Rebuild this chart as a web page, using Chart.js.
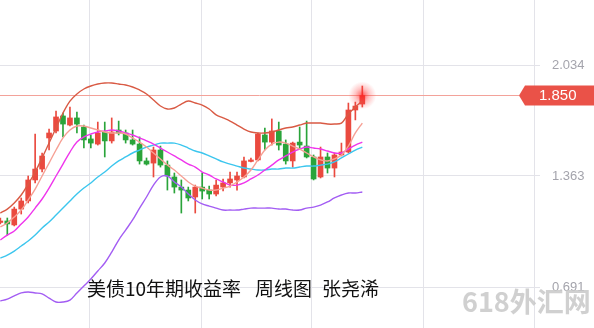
<!DOCTYPE html>
<html>
<head>
<meta charset="utf-8">
<script src="https://cdn.jsdelivr.net/npm/chart.js@4.4.1/dist/chart.umd.min.js"></script>
<style>
  body { margin: 0; background: #fff; }
  #wrap { width: 594px; height: 328px; position: relative; }
</style>
</head>
<body>
<div id="wrap"><canvas id="boll"></canvas></div>
<script>
// 周线 K 线 (美债10年期收益率)
const weeks = [0,1,2,3,4,5,6,7,8,9,10,11,12,13,14,15,16,17,18,19,20,21,22,23,24,25,26,27,28,29,30,31,32,33,34,35,36,37,38,39,40,41,42,43,44,45,46,47,48,49,50,51,52]
const open  = [1.082,1.091,1.067,1.163,1.212,1.339,1.405,1.593,1.635,1.726,1.671,1.714,1.659,1.587,1.556,1.629,1.575,1.641,1.623,1.581,1.556,1.454,1.441,1.520,1.429,1.357,1.296,1.278,1.236,1.296,1.278,1.254,1.296,1.321,1.339,1.357,1.451,1.460,1.611,1.568,1.635,1.556,1.454,1.568,1.544,1.478,1.357,1.478,1.411,1.490,1.508,1.762,1.798]
const high  = [1.109,1.109,1.175,1.230,1.363,1.617,1.502,1.647,1.756,1.744,1.780,1.750,1.671,1.611,1.689,1.689,1.714,1.695,1.641,1.641,1.599,1.472,1.538,1.544,1.454,1.381,1.339,1.296,1.308,1.381,1.302,1.339,1.345,1.387,1.387,1.478,1.472,1.623,1.653,1.708,1.689,1.581,1.568,1.659,1.695,1.490,1.538,1.502,1.502,1.562,1.804,1.810,1.907]
const low   = [1.073,1.006,1.061,1.133,1.200,1.321,1.387,1.520,1.623,1.599,1.665,1.623,1.532,1.532,1.550,1.478,1.562,1.611,1.562,1.550,1.435,1.429,1.357,1.417,1.278,1.260,1.139,1.212,1.139,1.224,1.224,1.242,1.272,1.296,1.278,1.351,1.448,1.454,1.520,1.550,1.520,1.435,1.417,1.526,1.472,1.339,1.351,1.381,1.357,1.484,1.502,1.702,1.780]
const close = [1.091,1.073,1.163,1.212,1.339,1.405,1.484,1.623,1.720,1.677,1.714,1.677,1.581,1.562,1.623,1.575,1.629,1.623,1.581,1.556,1.454,1.435,1.520,1.429,1.363,1.296,1.278,1.230,1.296,1.272,1.254,1.308,1.321,1.345,1.363,1.454,1.460,1.617,1.568,1.635,1.550,1.454,1.562,1.550,1.478,1.345,1.478,1.411,1.490,1.508,1.762,1.786,1.850]

// 均线 / 布林带
const ma5    = [1.055,1.079,1.115,1.157,1.218,1.284,1.363,1.441,1.520,1.593,1.641,1.665,1.665,1.653,1.641,1.629,1.623,1.623,1.617,1.593,1.568,1.538,1.502,1.466,1.429,1.399,1.363,1.327,1.302,1.290,1.278,1.278,1.290,1.302,1.327,1.357,1.399,1.460,1.520,1.556,1.568,1.562,1.544,1.526,1.502,1.478,1.460,1.454,1.466,1.490,1.544,1.623,1.683]
const ma10   = [0.976,1.006,1.030,1.073,1.115,1.169,1.224,1.290,1.363,1.435,1.508,1.568,1.599,1.617,1.629,1.635,1.641,1.635,1.623,1.611,1.593,1.575,1.556,1.532,1.508,1.484,1.460,1.435,1.417,1.387,1.369,1.345,1.327,1.308,1.308,1.321,1.345,1.369,1.399,1.429,1.460,1.484,1.508,1.526,1.538,1.532,1.526,1.514,1.502,1.502,1.526,1.550,1.568]
const bollUp = [1.139,1.163,1.200,1.248,1.314,1.387,1.472,1.562,1.653,1.744,1.816,1.859,1.889,1.907,1.919,1.925,1.925,1.919,1.913,1.901,1.883,1.859,1.822,1.786,1.768,1.774,1.798,1.816,1.804,1.792,1.768,1.732,1.714,1.695,1.671,1.647,1.629,1.623,1.623,1.629,1.641,1.653,1.659,1.671,1.683,1.683,1.683,1.677,1.677,1.683,1.738,1.780,1.816]
const bollMid = [0.867,0.885,0.909,0.940,0.970,1.006,1.049,1.085,1.127,1.169,1.212,1.254,1.290,1.321,1.357,1.387,1.423,1.454,1.478,1.502,1.520,1.538,1.550,1.562,1.562,1.562,1.550,1.532,1.514,1.502,1.484,1.466,1.448,1.435,1.423,1.411,1.405,1.399,1.399,1.405,1.405,1.411,1.411,1.417,1.423,1.423,1.429,1.435,1.448,1.472,1.496,1.520,1.538]
const bollDn = [0.607,0.619,0.638,0.656,0.662,0.656,0.650,0.625,0.601,0.601,0.613,0.656,0.698,0.740,0.789,0.837,0.903,0.976,1.036,1.097,1.169,1.236,1.308,1.357,1.363,1.327,1.296,1.254,1.218,1.194,1.181,1.169,1.157,1.157,1.157,1.163,1.169,1.169,1.169,1.169,1.163,1.163,1.157,1.157,1.169,1.175,1.187,1.206,1.230,1.248,1.260,1.260,1.266]

const yTicks = [2.034, 1.363, 0.691]
const xGrid = [12.88, 28.83, 44.77, 60.72, 76.67]

const RED = "#ea4a3f"
const GREEN = "#2aa43a"

function pts(arr) {
    return weeks.map((w, i) => ({ x: w, y: arr[i] }))
}

function candleColor(ctx) {
    const i = ctx.dataIndex
    return close[i] >= open[i] ? RED : GREEN
}

function lineSet(label, arr, color) {
    return {
        type: "line",
        label: label,
        data: pts(arr),
        borderColor: color,
        borderWidth: 1.4,
        pointRadius: 0,
        tension: 0.35,
        fill: false,
        order: 1
    }
}

const lastPrice = close[close.length - 1]

// 最新价标签、标题和水印
const overlay = {
    id: "overlay",
    beforeDatasetsDraw(chart) {
        const c = chart.ctx
        const y = chart.scales.y.getPixelForValue(lastPrice)
        c.save()
        c.strokeStyle = "#f3a29a"
        c.lineWidth = 1
        c.beginPath()
        c.moveTo(0, Math.round(y) + 0.5)
        c.lineTo(519, Math.round(y) + 0.5)
        c.stroke()
        c.restore()
    },
    afterDatasetsDraw(chart) {
        const c = chart.ctx
        const x = chart.scales.x.getPixelForValue(weeks[weeks.length - 1])
        const y = chart.scales.y.getPixelForValue(lastPrice)
        const g = c.createRadialGradient(x, y, 0, x, y, 14)
        g.addColorStop(0, "rgba(255,30,30,0.75)")
        g.addColorStop(0.5, "rgba(255,60,60,0.3)")
        g.addColorStop(1, "rgba(255,80,80,0)")
        c.save()
        c.fillStyle = g
        c.beginPath()
        c.arc(x, y, 14, 0, Math.PI * 2)
        c.fill()
        c.restore()
    },
    afterDraw(chart) {
        const c = chart.ctx
        const y = Math.round(chart.scales.y.getPixelForValue(lastPrice))
        c.save()
        // 价格框
        c.fillStyle = "#ea5248"
        c.beginPath()
        c.moveTo(519, y + 0.5)
        c.lineTo(525, y - 9.5)
        c.lineTo(594, y - 9.5)
        c.lineTo(594, y + 10.5)
        c.lineTo(525, y + 10.5)
        c.closePath()
        c.fill()
        c.fillStyle = "#fff"
        c.font = "15px 'Liberation Sans', Arial, sans-serif"
        c.textBaseline = "middle"
        c.textAlign = "left"
        c.fillText(lastPrice.toFixed(3), 539, y + 1)

        // 水印
        c.fillStyle = "rgba(200,200,200,0.85)"
        c.font = "bold 27px 'Noto Sans CJK SC'"
        c.fillText("618外汇网", 462, 302)

        // 标题
        c.fillStyle = "#111"
        c.font = "19px 'Noto Sans CJK SC'"
        c.fillText("美债10年期收益率", 87, 289)
        c.fillText("周线图", 255, 289)
        c.fillText("张尧浠", 322, 289)
        c.restore()
    }
}

const ctx = document.getElementById("boll").getContext("2d")
new Chart(ctx, {
    type: "bar",
    data: {
        datasets: [
            lineSet("BOLL UP", bollUp, "#d95a44"),
            lineSet("MA5", ma5, "#f6a094"),
            lineSet("MA10", ma10, "#ef35ec"),
            lineSet("BOLL MID", bollMid, "#3cc6ee"),
            lineSet("BOLL DN", bollDn, "#a35df3"),
            {
                label: "wick",
                data: weeks.map((w, i) => ({ x: w, y: [low[i], high[i]] })),
                backgroundColor: candleColor,
                barThickness: 1,
                grouped: false,
                order: 3
            },
            {
                label: "body",
                data: weeks.map((w, i) => ({ x: w, y: [open[i], close[i]] })),
                backgroundColor: candleColor,
                barThickness: 5,
                minBarLength: 1,
                grouped: false,
                order: 2
            }
        ]
    },
    options: {
        responsive: true,
        maintainAspectRatio: false,
        animation: false,
        layout: { padding: 0 },
        plugins: {
            legend: { display: false },
            tooltip: { enabled: false }
        },
        scales: {
            x: {
                type: "linear",
                min: -0.049,
                max: 77.526,
                offset: false,
                grid: { color: "#e3e3e9", offset: false, drawTicks: false },
                border: { display: false },
                ticks: { display: false },
                afterBuildTicks: s => { s.ticks = xGrid.map(v => ({ value: v })) },
                afterFit: s => { s.height = 0 }
            },
            y: {
                position: "right",
                min: 0.444,
                max: 2.427,
                grid: { color: "#e3e3e9", drawTicks: false },
                border: { display: false },
                ticks: {
                    padding: 12,
                    color: "#a4a4ac",
                    font: { size: 13, family: "'Liberation Sans', Arial, sans-serif" },
                    callback: v => v.toFixed(3)
                },
                afterBuildTicks: s => { s.ticks = yTicks.map(v => ({ value: v })) },
                afterFit: s => {
                    s.width = 54
                    s.paddingTop = 0
                    s.paddingBottom = 0
                }
            }
        }
    },
    plugins: [overlay]
});
</script>
</body>
</html>
